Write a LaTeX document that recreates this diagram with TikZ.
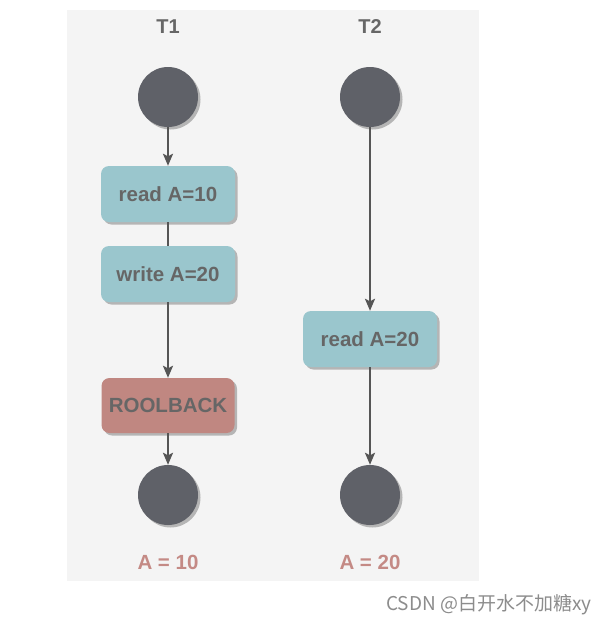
\documentclass[tikz,border=0pt]{standalone}
\usepackage{fontspec}
\setmainfont{Liberation Sans}
\newfontfamily\cjk{Noto Sans CJK SC}
\usetikzlibrary{arrows.meta,shadows}
\definecolor{bgc}{HTML}{F4F4F4}
\definecolor{boxc}{HTML}{9AC6CD}
\definecolor{rbc}{HTML}{C08781}
\definecolor{circc}{HTML}{5F6168}
\definecolor{txtc}{HTML}{666666}
\definecolor{resc}{HTML}{C48A85}
\definecolor{linec}{HTML}{555555}
\tikzset{
  shd/.style={drop shadow={shadow xshift=2.5pt,shadow yshift=-2.5pt,fill=black!35,opacity=0.8}},
  opbox/.style={shd,rectangle,rounded corners=8pt,fill=boxc,minimum width=134pt,minimum height=56pt,
    text=txtc,font=\fontsize{20.5}{22}\selectfont\bfseries,inner sep=0pt},
  rbbox/.style={opbox,fill=rbc,minimum width=133pt,minimum height=55pt},
  dot/.style={shd,circle,fill=circc,minimum size=60pt,inner sep=0pt},
  title/.style={text=txtc,font=\fontsize{20}{22}\selectfont\bfseries},
  result/.style={text=resc,font=\fontsize{20.5}{22}\selectfont\bfseries},
  conn/.style={draw=linec,line width=2pt,-{Stealth[length=12pt,width=10pt,inset=2.5pt]}},
  plain/.style={draw=linec,line width=2pt},
}
\begin{document}
\begin{tikzpicture}[x=1pt,y=-1pt]
\useasboundingbox (0,0) rectangle (609,625);
\fill[bgc] (67,10) rectangle (479,581);
\node[title] (t1) at (168,27) {T1};
\node[title] (t2) at (370,27) {T2};
\node[dot] (s1) at (168,97) {};
\node[dot] (s2) at (370,97) {};
\node[opbox] (r1) at (168,194) {read A=10};
\node[opbox] (w1) at (168,274) {write A=20};
\node[rbbox] (rb) at (168,405.5) {ROOLBACK};
\node[opbox] (r2) at (370,339) {read A=20};
\node[dot] (e1) at (168,495) {};
\node[dot] (e2) at (370,495) {};
\node[result] (a1) at (168,562) {A = 10};
\node[result] (a2) at (370,562) {A = 20};
\draw[conn] (s1) -- (r1);
\draw[plain] (r1) -- (w1);
\draw[conn] (w1) -- (rb);
\draw[conn] (rb) -- (e1);
\draw[conn] (s2) -- (r2);
\draw[conn] (r2) -- (e2);
\node[text=black!45,font=\cjk\fontsize{19}{22}\selectfont,anchor=east] (wm) at (595,605) {CSDN @白开水不加糖xy};
\end{tikzpicture}
\end{document}
